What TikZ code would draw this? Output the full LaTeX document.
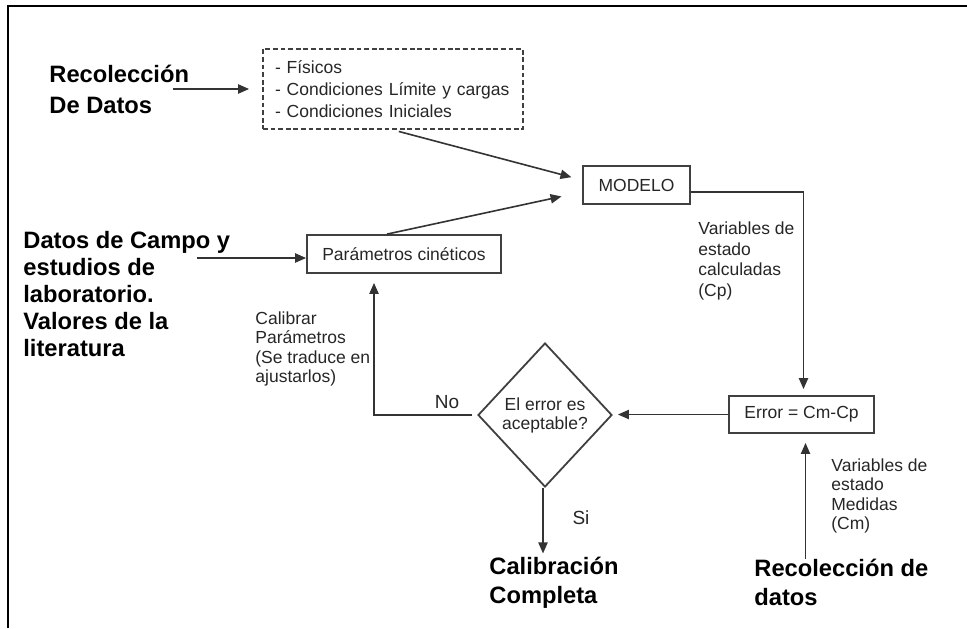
\documentclass[tikz,border=0pt]{standalone}
\usepackage{fontspec}
\setmainfont{Liberation Sans}
\usetikzlibrary{shapes.geometric,arrows.meta}
\begin{document}
\begin{tikzpicture}[
    x=0.5pt, y=-0.5pt,
    every node/.style={inner sep=0pt, text=black!85},
    box/.style={draw=black!75, line width=0.9pt, font=\fontsize{8.75}{10}\selectfont},
    dashbox/.style={box, dash pattern=on 2.4pt off 1.4pt, align=left, font=\fontsize{8.75}{11}\selectfont},
    decision/.style={box, diamond, aspect=0.93, minimum width=67pt, minimum height=72pt, align=center, font=\fontsize{8.75}{9.5}\selectfont},
    big/.style={font=\fontsize{11.85}{14.5}\selectfont\bfseries, text=black, align=left, anchor=west},
    note/.style={font=\fontsize{8.75}{10}\selectfont, align=left, anchor=west},
    arr/.style={draw=black!80, line width=0.8pt, -{Triangle[length=5.5pt,width=4.6pt]}}
]
\useasboundingbox (0,0) rectangle (967,628);
\draw[line width=1.4pt] (8,628) -- (8,6) -- (967,6);

\node[dashbox, minimum width=130pt, minimum height=40pt, text width=118pt] (fis) at (393,89) {- Físicos\\- Condiciones Límite y cargas\\- Condiciones Iniciales};
\node[box, minimum width=53.5pt, minimum height=19pt] (modelo) at (636.5,185) {MODELO};
\node[box, minimum width=97pt, minimum height=19pt] (param) at (404,254) {Parámetros cinéticos};
\node[box, minimum width=72.5pt, minimum height=18.5pt] (error) at (801.5,414.5) {Error = Cm-Cp};
\node[decision] (dia) at (545,415) {El error es\\aceptable?};

\node[big, font=\fontsize{11.85}{15.5}\selectfont\bfseries] (recol) at (49,89) {Recolección\\De Datos};
\node[big, font=\fontsize{11.85}{13.5}\selectfont\bfseries] (datos) at (23,294) {Datos de Campo y\\estudios de\\laboratorio.\\Valores de la\\literatura};
\node[big] (calib) at (489,582.5) {Calibración\\Completa};
\node[big] (recdat) at (754,582.5) {Recolección de\\datos};

\node[note, font=\fontsize{8.75}{10.3}\selectfont] (cp) at (698,261) {Variables de\\estado\\calculadas\\(Cp)};
\node[note, font=\fontsize{8.75}{9.7}\selectfont] (cm) at (831,496) {Variables de\\estado\\Medidas\\(Cm)};
\node[note, font=\fontsize{8.75}{9.7}\selectfont] (cal) at (255,349) {Calibrar\\Parámetros\\(Se traduce en\\ajustarlos)};
\node[note, anchor=center, font=\fontsize{9.5}{11}\selectfont] (no) at (447,402) {No};
\node[note, anchor=center, font=\fontsize{9.5}{11}\selectfont] (si) at (581,518) {Si};

\coordinate (datosout) at (197,258);
\draw[arr, shorten >=6.5pt] ([xshift=-8pt]recol.east) -- (fis.west);
\draw[arr, shorten <=3pt, shorten >=5.5pt] (fis.south) -- ([yshift=2.5pt]modelo.west);
\draw[arr, shorten >=10.5pt] ([xshift=-8.5pt]param.north) -- ([yshift=-3.5pt]modelo.west);
\draw[arr] (datosout) -- (datosout -| param.west);
\draw[arr, shorten >=3pt] ([yshift=-3.5pt]modelo.east) -| ([xshift=1pt]error.north);
\draw[arr, shorten >=2.5pt] (error.west) -- (error.west -| dia.east);
\draw[arr, shorten <=2.5pt, shorten >=4.5pt] (dia.west) -| ([xshift=-15pt]param.south);
\draw[arr, shorten >=1.5pt] ([xshift=-1pt]dia.south) -- ([xshift=-1pt]dia.south |- calib.north);
\draw[arr, shorten >=4.5pt] ([xshift=2pt]error.south |- recdat.north) -- ([xshift=2pt]error.south);
\end{tikzpicture}
\end{document}
